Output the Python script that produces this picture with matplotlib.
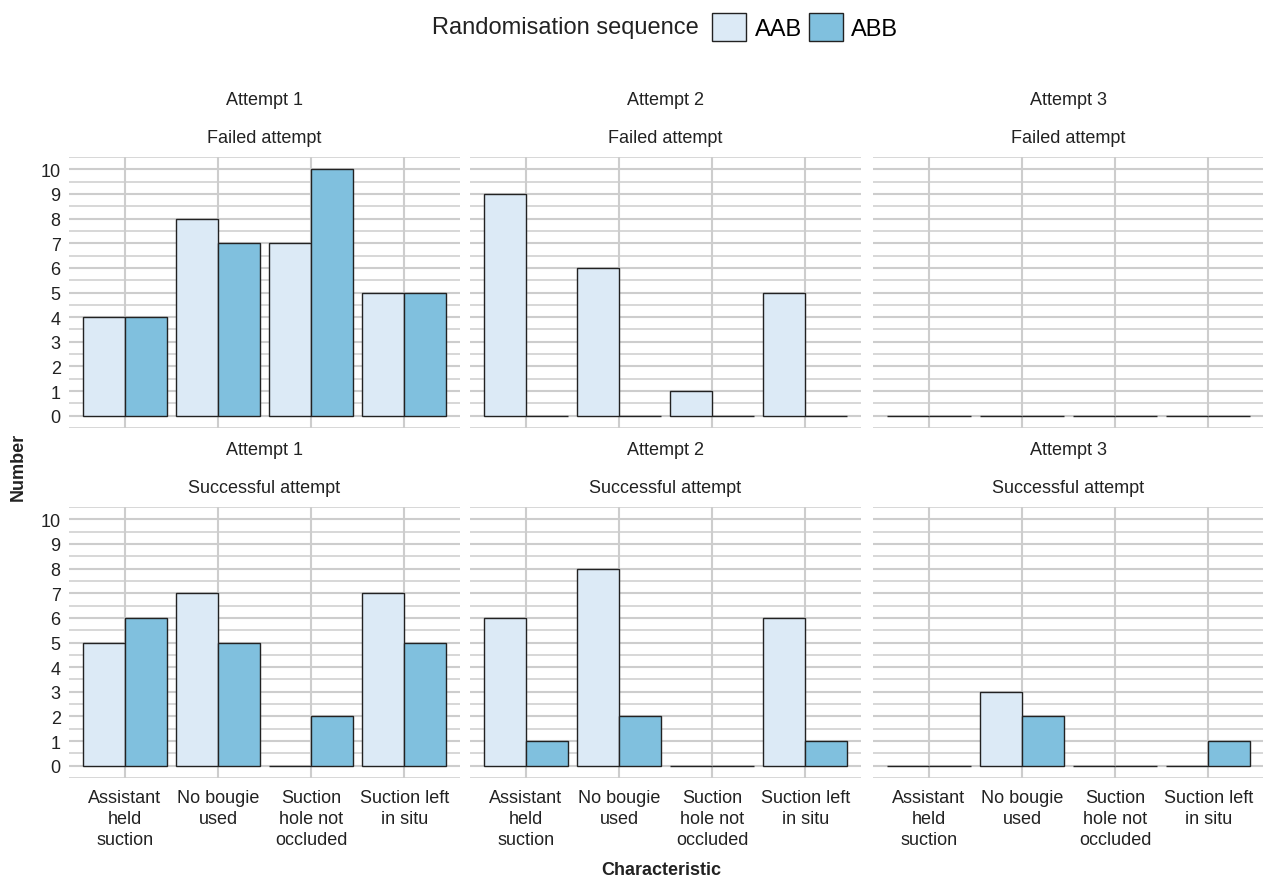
import numpy as np
import matplotlib.pyplot as plt
from matplotlib.ticker import MultipleLocator

plt.rcParams['font.family'] = ['Liberation Sans', 'DejaVu Sans']

categories = ['Assistant\nheld\nsuction', 'No bougie\nused', 'Suction\nhole not\noccluded', 'Suction left\nin situ']
attempts = ['Attempt 1', 'Attempt 2', 'Attempt 3']
outcomes = ['Failed attempt', 'Successful attempt']
groups = ['AAB', 'ABB']

# failed attempts
failed_aab = [[4, 8, 7, 5], [9, 6, 1, 5], [0, 0, 0, 0]]
failed_abb = [[4, 7, 10, 5], [0, 0, 0, 0], [0, 0, 0, 0]]
# successful attempts
success_aab = [[5, 7, 0, 7], [6, 8, 0, 6], [0, 3, 0, 0]]
success_abb = [[6, 5, 2, 5], [1, 2, 0, 1], [0, 2, 0, 1]]

data = {
    'Failed attempt': (failed_aab, failed_abb),
    'Successful attempt': (success_aab, success_abb),
}

col_aab = '#dceaf6'
col_abb = '#80c0de'
edge = '#222222'
grid_col = '#cdcdcd'
txt = '#222222'

W, H = 1263, 879
fig = plt.figure(figsize=(W / 100, H / 100), dpi=100)

lefts = [69, 470, 873]
pw = 391
tops = [158, 508]
ph = 271

x = np.arange(1, len(categories) + 1)
handles = None
for r, outc in enumerate(outcomes):
    aab_all, abb_all = data[outc]
    for c, att in enumerate(attempts):
        ax = fig.add_axes([lefts[c] / W, 1 - (tops[r] + ph) / H, pw / W, ph / H])
        b1 = ax.bar(x - 0.225, aab_all[c], 0.45, color=col_aab, edgecolor=edge, linewidth=1, zorder=3)
        b2 = ax.bar(x + 0.225, abb_all[c], 0.45, color=col_abb, edgecolor=edge, linewidth=1, zorder=3)
        handles = [b1, b2]
        ax.set_xlim(0.4, 4.6)
        ax.set_ylim(-0.5, 10.5)
        ax.yaxis.set_major_locator(MultipleLocator(1))
        ax.yaxis.set_minor_locator(MultipleLocator(0.5))
        ax.set_xticks(x)
        ax.grid(True, which='major', axis='both', color=grid_col, linewidth=1.5, zorder=0)
        ax.grid(True, which='minor', axis='y', color=grid_col, linewidth=1.1, zorder=0)
        for s in ax.spines.values():
            s.set_visible(False)
        ax.tick_params(which='both', length=0, labelsize=13, colors=txt, pad=6)
        if c == 0:
            ax.set_yticks(range(0, 11))
        else:
            ax.set_yticklabels([])
        if r == 1:
            ax.set_xticklabels(categories, linespacing=1.3)
            ax.tick_params(axis='x', pad=8)
        else:
            ax.set_xticklabels([])
        ax.text(0.5, 1 + 57 / ph, att, transform=ax.transAxes, ha='center', va='center',
                fontsize=13, color=txt)
        ax.text(0.5, 1 + 19 / ph, outc, transform=ax.transAxes, ha='center', va='center',
                fontsize=13, color=txt)

fig.text(18 / W, 1 - 467 / H, 'Number', rotation=90, ha='center', va='center',
         fontsize=13, fontweight='bold', color=txt)
fig.text(661 / W, 1 - 871 / H, 'Characteristic', ha='center', va='center',
         fontsize=13, fontweight='bold', color=txt)

fig.text(432 / W, 1 - 28 / H, 'Randomisation sequence', ha='left', va='center',
         fontsize=17, color=txt)
fig.legend(handles, groups, ncol=2, loc='center left', bbox_to_anchor=(712 / W, 1 - 28 / H),
           frameon=False, fontsize=17, handlelength=1.45, handleheight=1.45,
           handletextpad=0.35, columnspacing=0.3, borderpad=0, borderaxespad=0)

fig.savefig('out.png', dpi=100)
